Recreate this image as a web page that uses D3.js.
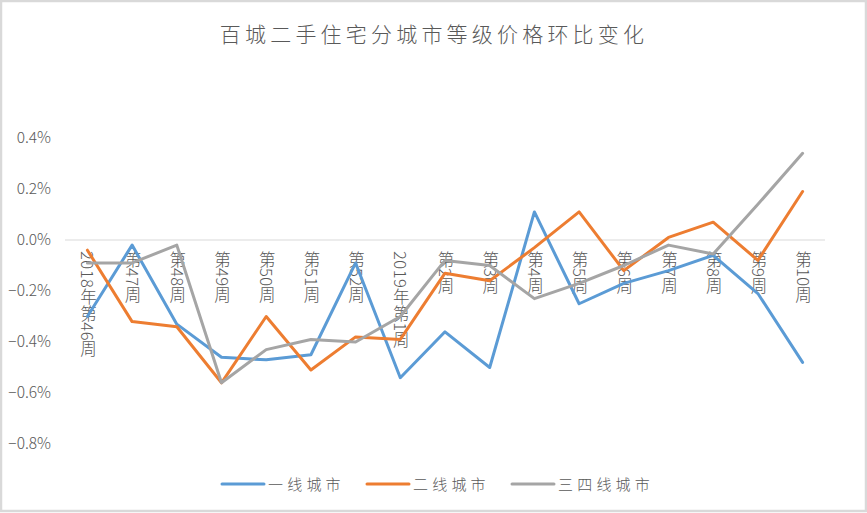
<!DOCTYPE html>
<html>
<head>
<meta charset="utf-8">
<script src="https://cdn.jsdelivr.net/npm/d3@7"></script>
<style>
  html, body { margin: 0; padding: 0; background: #fff; }
  svg { display: block; }
  text { font-family: "Noto Sans CJK SC", "Noto Sans", sans-serif; font-weight: 300; fill: #595959; }
</style>
</head>
<body>
<div id="chart"></div>
<script>
var chartWidth = 867;
var chartHeight = 513;

// week labels (x categories)
var categories = ["2018年第46周", "第47周", "第48周", "第49周", "第50周", "第51周", "第52周",
    "2019年第1周", "第2周", "第3周", "第4周", "第5周", "第6周", "第7周", "第8周", "第9周", "第10周"];

// week-on-week price change, in %
var tier1 = [-0.30, -0.02, -0.33, -0.46, -0.47, -0.45, -0.09, -0.54, -0.36, -0.50, 0.11, -0.25, -0.17, -0.12, -0.06, -0.21, -0.48];
var tier2 = [-0.04, -0.32, -0.34, -0.56, -0.30, -0.51, -0.38, -0.39, -0.13, -0.16, -0.03, 0.11, -0.12, 0.01, 0.07, -0.08, 0.19];
var tier34 = [-0.09, -0.09, -0.02, -0.56, -0.43, -0.39, -0.40, -0.30, -0.08, -0.10, -0.23, -0.17, -0.10, -0.02, -0.055, 0.14, 0.34];

var yTicks = [-0.8, -0.6, -0.4, -0.2, 0.0, 0.2, 0.4];

var seriesNames = ["一线城市", "二线城市", "三四线城市"];
var seriesColors = ["#5B9BD5", "#ED7D31", "#A5A5A5"];

var svg = d3.select("#chart").append("svg")
    .attr("width", chartWidth)
    .attr("height", chartHeight);

// outer frame
svg.append("rect").attr("x", 1).attr("y", 1)
    .attr("width", chartWidth - 2).attr("height", chartHeight - 3)
    .style("fill", "#fff").style("stroke", "#d9d9d9").style("stroke-width", 2.5);

svg.append("text")
    .attr("x", 434).attr("y", 42)
    .attr("text-anchor", "middle")
    .style("font-size", "21px")
    .style("letter-spacing", "4.2px")
    .text("百城二手住宅分城市等级价格环比变化");

var x = d3.scalePoint().domain(categories).range([87.4, 802.6]);
var y = d3.scaleLinear().domain([-0.8, 0.4]).range([444, 138]);

// y labels
var yAxis = d3.axisLeft(y).tickValues(yTicks).tickSize(0).tickPadding(0)
    .tickFormat(function(d) { return (d < 0 ? "−" : "") + Math.abs(d).toFixed(1) + "%"; });
var yg = svg.append("g").attr("transform", "translate(51,0)").call(yAxis);
yg.select(".domain").remove();
yg.selectAll("text").style("font-size", "15.5px").style("fill", "#595959")
    .style("font-family", "\"Noto Sans CJK SC\", sans-serif").style("font-weight", 300);

// zero line
svg.append("line")
    .attr("x1", 65).attr("x2", 825)
    .attr("y1", y(0)).attr("y2", y(0))
    .style("stroke", "#d9d9d9").style("stroke-width", 1);

// category labels, vertical
svg.append("g").selectAll("text").data(categories).enter().append("text")
    .attr("x", function(d) { return x(d) + 1; })
    .attr("y", 251)
    .style("writing-mode", "vertical-rl")
    .style("text-orientation", "mixed")
    .style("font-size", "16.5px")
    .style("letter-spacing", "0.5px")
    .text(function(d) { return d; });

// lines
var line = d3.line()
    .x(function(d, i) { return x(categories[i]); })
    .y(function(d) { return y(d); });

[tier1, tier2, tier34].forEach(function(values, i) {
    svg.append("path")
        .datum(values)
        .attr("d", line)
        .style("fill", "none")
        .style("stroke", seriesColors[i])
        .style("stroke-width", 3)
        .style("stroke-linejoin", "round")
        .style("stroke-linecap", "round");
});

// legend
var legendX = [222, 367, 512];
var legend = svg.append("g");
seriesNames.forEach(function(name, i) {
    legend.append("line")
        .attr("x1", legendX[i]).attr("x2", legendX[i] + 42)
        .attr("y1", 484).attr("y2", 484)
        .style("stroke", seriesColors[i]).style("stroke-width", 3)
        .style("stroke-linecap", "round");
    legend.append("text")
        .attr("x", legendX[i] + 46).attr("y", 490)
        .style("font-size", "15px")
        .style("letter-spacing", "4.2px")
        .text(name);
});
</script>
</body>
</html>
